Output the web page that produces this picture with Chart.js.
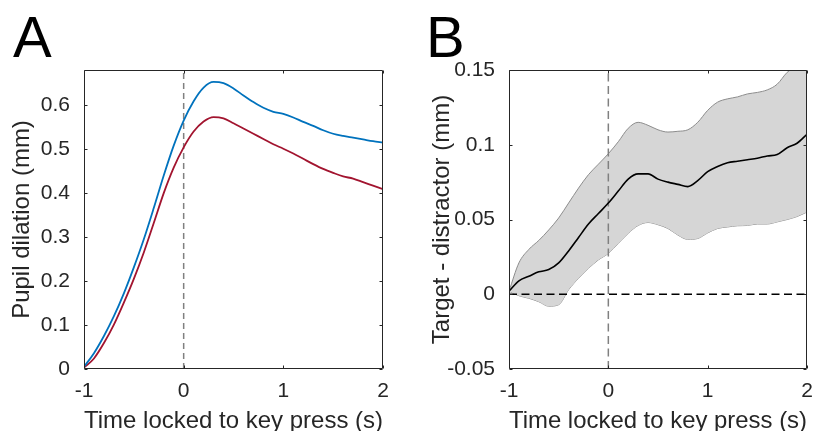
<!DOCTYPE html>
<html>
<head>
<meta charset="utf-8">
<script src="https://cdn.jsdelivr.net/npm/chart.js@4.4.1/dist/chart.umd.min.js"></script>
<style>
  html, body { margin: 0; padding: 0; background: #fff; }
  #wrap { position: relative; width: 815px; height: 431px; overflow: hidden; }
  canvas { position: absolute; top: 0; }
  #cA { left: 0; }
  #cB { left: 408px; }
  .panel { position: absolute; font-family: "Liberation Sans", Arial, sans-serif; font-size: 58px; line-height: 58px; color: #000; }
</style>
</head>
<body>
<div id="wrap">
  <canvas id="cA" width="408" height="431"></canvas>
  <canvas id="cB" width="407" height="431"></canvas>
  <div class="panel" style="left:13px; top:8px;">A</div>
  <div class="panel" style="left:426px; top:8px;">B</div>
</div>
<script>
// 時間軸 (s)
const time = [-1.0, -0.9, -0.8, -0.7, -0.6, -0.5, -0.4, -0.3, -0.2, -0.1,
              0.0, 0.1, 0.2, 0.3, 0.4, 0.5, 0.6, 0.7, 0.8, 0.9,
              1.0, 1.1, 1.2, 1.3, 1.4, 1.5, 1.6, 1.7, 1.8, 1.9, 2.0];

// パネルA: 瞳孔拡張 (mm)
const pupilBlue = [0.005, 0.036, 0.075, 0.120, 0.172, 0.231, 0.295, 0.366, 0.440, 0.508,
                   0.565, 0.609, 0.640, 0.653, 0.650, 0.638, 0.622, 0.607, 0.594, 0.585,
                   0.580, 0.572, 0.562, 0.553, 0.543, 0.535, 0.530, 0.526, 0.522, 0.518, 0.515];
const pupilRed = [0.003, 0.024, 0.059, 0.101, 0.151, 0.205, 0.265, 0.332, 0.400, 0.458,
                  0.504, 0.540, 0.563, 0.573, 0.570, 0.559, 0.547, 0.535, 0.523, 0.511,
                  0.501, 0.490, 0.478, 0.466, 0.455, 0.446, 0.438, 0.433, 0.425, 0.417, 0.409];

// パネルB: Target - distractor (mm)
const diffMean = [0.002, 0.009, 0.012, 0.015, 0.0165, 0.021, 0.029, 0.038, 0.047, 0.054,
                  0.061, 0.069, 0.077, 0.0805, 0.0805, 0.077, 0.075, 0.0735, 0.072, 0.076,
                  0.082, 0.0855, 0.088, 0.089, 0.090, 0.091, 0.0925, 0.0935, 0.098, 0.101, 0.107];
const diffUpper = [0.002, 0.021, 0.030, 0.036, 0.043, 0.051, 0.061, 0.071, 0.080, 0.087,
                   0.094, 0.102, 0.111, 0.115, 0.113, 0.110, 0.1085, 0.109, 0.110, 0.115,
                   0.123, 0.1285, 0.1307, 0.132, 0.134, 0.135, 0.1367, 0.1405, 0.1484, 0.153, 0.157];
const diffLower = [0.002, -0.001, -0.0027, -0.005, -0.008, -0.007, 0.003, 0.0107, 0.0173, 0.023,
                   0.0273, 0.034, 0.0407, 0.046, 0.048, 0.0465, 0.044, 0.0396, 0.0367, 0.0373,
                   0.041, 0.044, 0.045, 0.0458, 0.046, 0.047, 0.047, 0.0484, 0.050, 0.052, 0.055];

// 軸の範囲と目盛り
const xLimits = [-1, 2];
const xTicks = [-1, 0, 1, 2];
const yLimitsA = [0, 0.68];
const yTicksA = [0, 0.1, 0.2, 0.3, 0.4, 0.5, 0.6];
const yLimitsB = [-0.05, 0.15];
const yTicksB = [-0.05, 0, 0.05, 0.1, 0.15];
const keyPressTime = 0;
const zeroLevel = 0;

const axisColor = "#262626";
const tickLen = 3;
Chart.defaults.font.family = '"Liberation Sans", Arial, sans-serif';
Chart.defaults.color = axisColor;

function pts(ys) {
    return ys.map((v, i) => ({ x: time[i], y: v }));
}

// 枠と内向きの目盛り
const frameTicks = {
    id: "frameTicks",
    afterDraw(chart) {
        const { ctx, chartArea: a, scales: { x, y } } = chart;
        const L = Math.round(a.left) + 0.5, R = Math.round(a.right) - 0.5;
        const T = Math.round(a.top) + 0.5, B = Math.round(a.bottom) - 0.5;
        ctx.save();
        ctx.strokeStyle = axisColor;
        ctx.lineWidth = 1;
        ctx.beginPath();
        x.ticks.forEach(t => {
            const px = Math.round(x.getPixelForValue(t.value)) + 0.5;
            ctx.moveTo(px, B); ctx.lineTo(px, B - tickLen);
            ctx.moveTo(px, T); ctx.lineTo(px, T + tickLen);
        });
        y.ticks.forEach(t => {
            const py = Math.round(y.getPixelForValue(t.value)) + 0.5;
            ctx.moveTo(L, py); ctx.lineTo(L + tickLen, py);
            ctx.moveTo(R, py); ctx.lineTo(R - tickLen, py);
        });
        ctx.rect(L, T, R - L, B - T);
        ctx.stroke();
        ctx.restore();
    }
};

function makeOptions(yLimits, yTicks, yTitle, yWidth, yTitlePad, padRight) {
    return {
        responsive: false,
        animation: false,
        events: [],
        layout: { padding: { top: 70, right: padRight, left: 0, bottom: 0 } },
        plugins: { legend: { display: false }, tooltip: { enabled: false } },
        scales: {
            x: {
                type: "linear",
                min: xLimits[0],
                max: xLimits[1],
                grid: { display: false },
                border: { display: false },
                afterBuildTicks: s => { s.ticks = xTicks.map(v => ({ value: v })); },
                afterFit: s => { s.height = 62; },
                ticks: { font: { size: 21 }, padding: 2, callback: v => String(v), maxRotation: 0 },
                title: { display: true, text: "Time locked to key press (s)", font: { size: 24 }, padding: { top: 0, bottom: -5 } }
            },
            y: {
                type: "linear",
                min: yLimits[0],
                max: yLimits[1],
                grid: { display: false },
                border: { display: false },
                afterBuildTicks: s => { s.ticks = yTicks.map(v => ({ value: v })); },
                afterFit: s => { s.width = yWidth; },
                ticks: { font: { size: 21 }, padding: 6, callback: v => String(v) },
                title: { display: true, text: yTitle, font: { size: 24 }, padding: { top: yTitlePad, bottom: 0 } }
            }
        }
    };
}

// パネルA
new Chart(document.getElementById("cA"), {
    type: "line",
    data: {
        datasets: [
            { data: pts(pupilBlue), borderColor: "#0072BD", borderWidth: 1.8, pointRadius: 0, cubicInterpolationMode: "monotone", fill: false },
            { data: pts(pupilRed), borderColor: "#A2142F", borderWidth: 1.8, pointRadius: 0, cubicInterpolationMode: "monotone", fill: false },
            { data: [{ x: keyPressTime, y: yLimitsA[0] }, { x: keyPressTime, y: yLimitsA[1] }], borderColor: "#808080", borderWidth: 1.5, borderDash: [6, 4], pointRadius: 0, fill: false }
        ]
    },
    options: makeOptions(yLimitsA, yTicksA, "Pupil dilation (mm)", 84, 8, 25),
    plugins: [frameTicks]
});

// パネルB
new Chart(document.getElementById("cB"), {
    type: "line",
    data: {
        datasets: [
            { data: pts(diffMean), borderColor: "#000000", borderWidth: 1.6, pointRadius: 0, cubicInterpolationMode: "monotone", fill: false },
            { data: [{ x: xLimits[0], y: zeroLevel }, { x: xLimits[1], y: zeroLevel }], borderColor: "#000000", borderWidth: 1.3, borderDash: [8, 4.5], pointRadius: 0, fill: false },
            { data: [{ x: keyPressTime, y: yLimitsB[0] }, { x: keyPressTime, y: yLimitsB[1] }], borderColor: "#808080", borderWidth: 1.5, borderDash: [8, 4.5], pointRadius: 0, fill: false },
            { data: pts(diffUpper), borderColor: "#8c8c8c", borderWidth: 1, pointRadius: 0, cubicInterpolationMode: "monotone", fill: "+1", backgroundColor: "#d6d6d6" },
            { data: pts(diffLower), borderColor: "#8c8c8c", borderWidth: 1, pointRadius: 0, cubicInterpolationMode: "monotone", fill: false }
        ]
    },
    options: makeOptions(yLimitsB, yTicksB, "Target - distractor (mm)", 101, 20, 8),
    plugins: [frameTicks]
});
</script>
</body>
</html>
